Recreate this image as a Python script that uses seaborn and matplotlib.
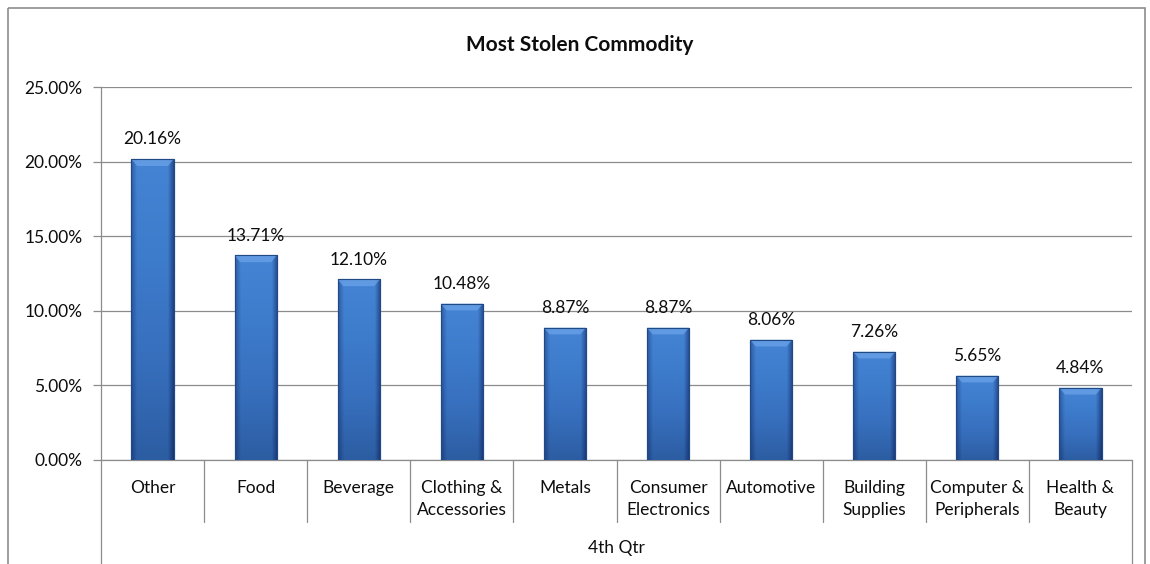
import numpy as np
import matplotlib
matplotlib.use("Agg")
import matplotlib.pyplot as plt
import seaborn as sns
from matplotlib.colors import LinearSegmentedColormap
from matplotlib.patches import Rectangle, Polygon
import matplotlib.transforms as mtransforms

categories = ["Other", "Food", "Beverage", "Clothing &\nAccessories", "Metals",
              "Consumer\nElectronics", "Automotive", "Building\nSupplies",
              "Computer &\nPeripherals", "Health &\nBeauty"]
values = [20.16, 13.71, 12.10, 10.48, 8.87, 8.87, 8.06, 7.26, 5.65, 4.84]
value_labels = ["20.16%", "13.71%", "12.10%", "10.48%", "8.87%", "8.87%",
                "8.06%", "7.26%", "5.65%", "4.84%"]
yticks = [0, 5, 10, 15, 20, 25]
ytick_labels = ["0.00%", "5.00%", "10.00%", "15.00%", "20.00%", "25.00%"]
title = "Most Stolen Commodity"
group_label = "4th Qtr"

sns.set_style("white")
plt.rcParams["font.family"] = ["Lato", "DejaVu Sans"]

FS = 12.5
TXT = "#0d0d0d"
W, H = 1150, 564
fig = plt.figure(figsize=(W / 100, H / 100), dpi=100)
L, R, T, B = 101, 1132, 87, 460
ax = fig.add_axes([L / W, 1 - B / H, (R - L) / W, (B - T) / H])

sns.barplot(x=list(range(len(values))), y=values, width=0.41, color="#3a74c4",
            ax=ax, zorder=3, edgecolor="#1f4a85", linewidth=0.8)
ax.set_xlim(-0.5, len(values) - 0.5)
ax.set_ylim(0, 25)

# gradient fill for bars
cmap = LinearSegmentedColormap.from_list("bar", ["#2c5da2", "#376fbd", "#3d7bcb", "#4584d4"])
grad = np.linspace(0, 1, 256).reshape(-1, 1)
for p in ax.patches:
    x0, y0 = p.get_x(), p.get_y()
    w, h = p.get_width(), p.get_height()
    im = ax.imshow(grad, extent=[x0, x0 + w, y0, y0 + h], origin="lower",
                   aspect="auto", cmap=cmap, zorder=3.5)
    im.set_clip_path(p)
    hx = np.tile(np.concatenate([np.linspace(0.3, 0, 12), np.zeros(56), np.linspace(0, 0.45, 12)]), (2, 1))
    im2 = ax.imshow(hx, extent=[x0, x0 + w, y0, y0 + h], origin="lower", aspect="auto",
                    cmap=LinearSegmentedColormap.from_list("sh", [(0, 0, 0.2, 0), (0, 0, 0.2, 1)]),
                    vmin=0, vmax=1, zorder=3.6)
    im2.set_clip_path(p)
    # top bevel highlight (trapezoid)
    bev, ins = 0.45, 0.055
    top = y0 + h
    ax.add_patch(Polygon([(x0, top), (x0 + w, top), (x0 + w - ins, top - bev), (x0 + ins, top - bev)],
                         closed=True, facecolor="#6aa3e8", edgecolor="none", alpha=0.75, zorder=3.65))
    ax.add_patch(Rectangle((x0, y0), w, h, fill=False, edgecolor="#1f4a85", lw=0.8, zorder=3.7))
ax.set_xlim(-0.5, len(values) - 0.5)
ax.set_ylim(0, 25)

# grid
ax.set_yticks(yticks)
ax.set_yticklabels(ytick_labels, fontsize=FS, color=TXT)
ax.yaxis.grid(True, color="#8c8c8c", linewidth=0.9, zorder=0)
ax.xaxis.grid(False)
ax.tick_params(axis="y", length=6, width=0.9, color="#8c8c8c", pad=7.5, left=True)
for s in ["top", "right"]:
    ax.spines[s].set_visible(False)
for s in ["left", "bottom"]:
    ax.spines[s].set_color("#8c8c8c")
    ax.spines[s].set_linewidth(0.9)

# category labels
ax.set_xticks(range(len(categories)))
ax.set_xticklabels(categories, fontsize=FS, color=TXT, linespacing=1.45)
ax.tick_params(axis="x", length=0, pad=14.5)
ax.set_xlabel("")

trans = mtransforms.blended_transform_factory(ax.transData, ax.transAxes)
axh = B - T
for i in range(1, len(categories)):
    ax.plot([i - 0.5, i - 0.5], [0, -62 / axh], transform=trans, color="#8c8c8c",
            lw=0.9, clip_on=False)
for xe in [-0.5, len(categories) - 0.5]:
    ax.plot([xe, xe], [0, -110 / axh], transform=trans, color="#8c8c8c",
            lw=0.9, clip_on=False)
ax.text((len(categories) - 1) / 2, -88 / axh, group_label, transform=trans,
        ha="center", va="center", fontsize=FS, color=TXT)

# value labels
for i, (v, lab) in enumerate(zip(values, value_labels)):
    ax.annotate(lab, (i, v), xytext=(0, 8.5), textcoords="offset points",
                ha="center", va="bottom", fontsize=FS, color=TXT)

fig.text(580 / W, 1 - 45 / H, title, ha="center", va="center", fontsize=15,
         fontweight="bold", color=TXT)

# outer frame
fig.patches.append(Rectangle((8, 8), 1137, 600, fill=False,
                             edgecolor="#8c8c8c", lw=1.2))
fig.patches[-1].set_transform(mtransforms.Affine2D().scale(1, -1).translate(0, H))

fig.savefig("out.png", dpi=100)
